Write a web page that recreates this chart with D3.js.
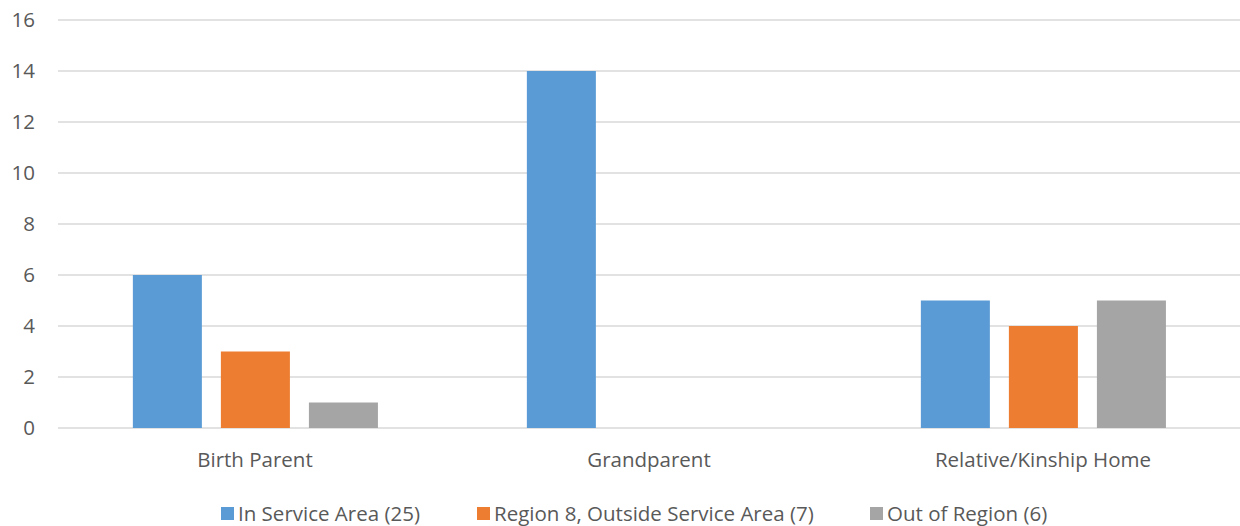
<!DOCTYPE html>
<html lang="en">
<head>
  <meta charset="UTF-8" />
  <title>Placement by Area</title>
  <script src="https://d3js.org/d3.v7.min.js"></script>
  <style>
    body {
      margin: 0;
      overflow: hidden;
      background: #fff;
    }
    text {
      font-family: "Open Sans", Lato, sans-serif;
      fill: #595959;
      font-size: 20.5px;
    }
    .grid line {
      stroke: #d9d9d9;
      stroke-width: 1.3px;
    }
  </style>
</head>
<body>
<svg width="1240" height="526"></svg>
<script>
const categories = ["Birth Parent", "Grandparent", "Relative/Kinship Home"];
const seriesNames = ["In Service Area (25)", "Region 8, Outside Service Area (7)", "Out of Region (6)"];
const inServiceArea = [6, 14, 5];
const region8Outside = [3, 0, 4];
const outOfRegion = [1, 0, 5];
const yTicks = [0, 2, 4, 6, 8, 10, 12, 14, 16];
const colors = ["#5B9BD5", "#ED7D31", "#A5A5A5"];

const series = [inServiceArea, region8Outside, outOfRegion];

const svg = d3.select("svg");
const plotLeft = 58, plotRight = 1240, plotTop = 20, plotBottom = 428;

const x0 = d3.scaleBand()
  .domain(categories)
  .range([plotLeft, plotRight])
  .padding(0);

const bw = x0.bandwidth();
const x1 = d3.scaleBand()
  .domain(d3.range(series.length))
  .range([bw * 0.19, bw * 0.812])
  .paddingInner(0.216)
  .paddingOuter(0);

const y = d3.scaleLinear()
  .domain([0, 16])
  .range([plotBottom, plotTop]);

// gridlines
const grid = svg.append("g").attr("class", "grid");
grid.selectAll("line")
  .data(yTicks)
  .enter()
  .append("line")
  .attr("x1", plotLeft)
  .attr("x2", plotRight)
  .attr("y1", d => y(d))
  .attr("y2", d => y(d));

// y labels
svg.append("g")
  .selectAll("text")
  .data(yTicks)
  .enter()
  .append("text")
  .attr("x", 35)
  .attr("y", d => y(d))
  .attr("dy", "0.35em")
  .attr("text-anchor", "end")
  .text(d => d);

// bars
const groups = svg.append("g")
  .selectAll("g")
  .data(categories)
  .enter()
  .append("g")
  .attr("transform", d => `translate(${x0(d)},0)`);

groups.selectAll("rect")
  .data((d, i) => series.map((s, j) => ({ j, v: s[i] })).filter(b => b.v > 0))
  .enter()
  .append("rect")
  .attr("x", d => x1(d.j))
  .attr("width", x1.bandwidth())
  .attr("y", d => y(d.v))
  .attr("height", d => y(0) - y(d.v))
  .attr("fill", d => colors[d.j]);

// category labels
svg.append("g")
  .selectAll("text")
  .data(categories)
  .enter()
  .append("text")
  .attr("x", d => x0(d) + bw / 2)
  .attr("y", 467)
  .attr("text-anchor", "middle")
  .text(d => d);

// legend
const legendX = [221, 477, 870];
const legend = svg.append("g")
  .selectAll("g")
  .data(seriesNames)
  .enter()
  .append("g")
  .attr("transform", (d, i) => `translate(${legendX[i]},507)`);

legend.append("rect")
  .attr("width", 13)
  .attr("height", 13)
  .attr("fill", (d, i) => colors[i]);

legend.append("text")
  .attr("x", 17)
  .attr("y", 14)
  .text(d => d);
</script>
</body>
</html>
